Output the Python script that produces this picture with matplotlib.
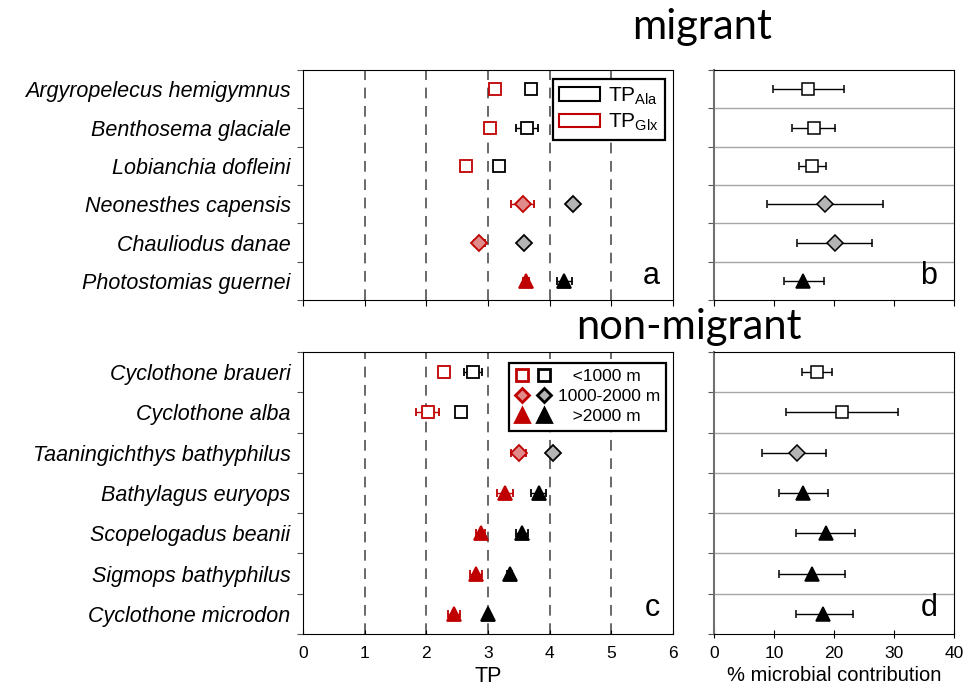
import matplotlib
matplotlib.use('Agg')
import matplotlib.pyplot as plt
from matplotlib.patches import Patch
from matplotlib.lines import Line2D
from matplotlib.legend_handler import HandlerTuple

plt.rcParams['font.family'] = 'Liberation Sans'
plt.rcParams['mathtext.fontset'] = 'custom'
plt.rcParams['mathtext.rm'] = 'Liberation Sans'

# ---- data ----
migrant_species = ['Argyropelecus hemigymnus', 'Benthosema glaciale', 'Lobianchia dofleini',
                   'Neonesthes capensis', 'Chauliodus danae', 'Photostomias guernei']
migrant_depth = ['<1000', '<1000', '<1000', '1000-2000', '1000-2000', '>2000']
migrant_glx = [3.11, 3.03, 2.65, 3.56, 2.86, 3.61]
migrant_glx_err = [0.03, 0.0, 0.0, 0.19, 0.09, 0.05]
migrant_ala = [3.70, 3.63, 3.17, 4.37, 3.59, 4.24]
migrant_ala_err = [0.0, 0.18, 0.0, 0.0, 0.04, 0.12]
migrant_micro = [15.7, 16.6, 16.3, 18.5, 20.1, 14.9]
migrant_micro_lo = [5.8, 3.6, 2.1, 9.7, 6.2, 3.3]
migrant_micro_hi = [6.0, 3.6, 2.4, 9.7, 6.3, 3.4]

resident_species = ['Cyclothone braueri', 'Cyclothone alba', 'Taaningichthys bathyphilus',
                    'Bathylagus euryops', 'Scopelogadus beanii', 'Sigmops bathyphilus',
                    'Cyclothone microdon']
resident_depth = ['<1000', '<1000', '1000-2000', '>2000', '>2000', '>2000', '>2000']
resident_glx = [2.29, 2.02, 3.50, 3.27, 2.88, 2.80, 2.45]
resident_glx_err = [0.0, 0.18, 0.12, 0.13, 0.07, 0.10, 0.10]
resident_ala = [2.76, 2.56, 4.05, 3.82, 3.55, 3.35, 3.00]
resident_ala_err = [0.15, 0.05, 0.0, 0.12, 0.10, 0.04, 0.0]
resident_micro = [17.1, 21.3, 13.9, 14.8, 18.7, 16.3, 18.2]
resident_micro_lo = [2.4, 9.3, 5.9, 3.9, 5.1, 5.5, 4.6]
resident_micro_hi = [2.5, 9.4, 4.7, 4.2, 4.8, 5.5, 4.9]

RED = '#c00000'
# marker, facecolor/edgecolor for Ala (black) and Glx (red)
styles = {
    '<1000': dict(marker='s', ms=8.5, ala_fc='white', ala_ec='black', glx_fc='white', glx_ec=RED),
    '1000-2000': dict(marker='D', ms=8, ala_fc='#b4b4b4', ala_ec='black', glx_fc='#e08a8a', glx_ec=RED),
    '>2000': dict(marker='^', ms=10, ala_fc='black', ala_ec='black', glx_fc=RED, glx_ec=RED),
}

fig = plt.figure(figsize=(9.66, 6.91), dpi=100)
ax_a = fig.add_axes([0.3137, 0.5658, 0.3830, 0.3329])
ax_b = fig.add_axes([0.7391, 0.5658, 0.2485, 0.3329])
ax_c = fig.add_axes([0.3137, 0.0825, 0.3830, 0.4081])
ax_d = fig.add_axes([0.7391, 0.0825, 0.2485, 0.4081])


def setup_rows(ax, n, labels=None):
    ax.set_ylim(0, n)
    ax.set_yticks(range(n + 1))
    ax.set_yticklabels([])
    ax.tick_params(axis='y', which='major', length=4, width=0.8, color='#555555')
    if labels is not None:
        ax.set_yticks([n - i - 0.5 for i in range(n)], labels=labels, minor=True)
        ax.tick_params(axis='y', which='minor', length=0, pad=9, labelsize=15.5)
        for t in ax.get_yticklabels(minor=True):
            t.set_style('italic')


def tp_panel(ax, species, depth, glx, glx_err, ala, ala_err, letter):
    n = len(species)
    setup_rows(ax, n, species)
    ax.set_xlim(0, 6)
    ax.set_xticks(range(7))
    for v in range(1, 6):
        ax.axvline(v, color='#404040', lw=1.1, ls=(0, (7, 5)), zorder=0)
    for i in range(n):
        y = n - i - 0.5
        st = styles[depth[i]]
        ax.errorbar(glx[i], y, xerr=glx_err[i], fmt=st['marker'], ms=st['ms'],
                    mfc=st['glx_fc'], mec=st['glx_ec'], mew=1.3, ecolor=RED,
                    elinewidth=1, capsize=3, zorder=3)
        ax.errorbar(ala[i], y, xerr=ala_err[i], fmt=st['marker'], ms=st['ms'],
                    mfc=st['ala_fc'], mec=st['ala_ec'], mew=1.3, ecolor='black',
                    elinewidth=1, capsize=3, zorder=3)
    ax.text(0.965, 0.04, letter, transform=ax.transAxes, ha='right', va='bottom', fontsize=22)


def micro_panel(ax, depth, micro, lo, hi, letter):
    n = len(micro)
    setup_rows(ax, n)
    ax.set_xlim(0, 40)
    ax.set_xticks([0, 10, 20, 30, 40])
    for v in range(1, n):
        ax.axhline(v, color='#a6a6a6', lw=1, zorder=0)
    for i in range(n):
        y = n - i - 0.5
        st = styles[depth[i]]
        ax.errorbar(micro[i], y, xerr=[[lo[i]], [hi[i]]], fmt=st['marker'], ms=st['ms'],
                    mfc=st['ala_fc'], mec='black', mew=1.1, ecolor='black',
                    elinewidth=1, capsize=3, zorder=3)
    ax.text(0.93, 0.04, letter, transform=ax.transAxes, ha='right', va='bottom', fontsize=22)
    ax.spines['left'].set_color('#707070')
    ax.spines['left'].set_linewidth(1.5)


tp_panel(ax_a, migrant_species, migrant_depth, migrant_glx, migrant_glx_err,
         migrant_ala, migrant_ala_err, 'a')
tp_panel(ax_c, resident_species, resident_depth, resident_glx, resident_glx_err,
         resident_ala, resident_ala_err, 'c')
micro_panel(ax_b, migrant_depth, migrant_micro, migrant_micro_lo, migrant_micro_hi, 'b')
micro_panel(ax_d, resident_depth, resident_micro, resident_micro_lo, resident_micro_hi, 'd')

for ax in (ax_a, ax_b):
    ax.set_xticklabels([])
    ax.tick_params(axis='x', length=4, direction='out')
ax_c.tick_params(axis='x', length=3, direction='in', labelsize=12.5, pad=9)
ax_d.tick_params(axis='x', length=6, direction='inout', labelsize=12.5, pad=6)
ax_c.set_xlabel('TP', fontsize=15.5, labelpad=3)
ax_d.set_xlabel('% microbial contribution', fontsize=14.5, labelpad=3)

# legend a
leg_a = ax_a.legend(handles=[Patch(facecolor='white', edgecolor='black', lw=1.5),
                             Patch(facecolor='white', edgecolor=RED, lw=1.5)],
                    labels=[r'TP$_{\mathrm{Ala}}$', r'TP$_{\mathrm{Glx}}$'],
                    loc='upper right', bbox_to_anchor=(0.99, 0.98), fontsize=15,
                    handlelength=1.95, handleheight=0.65, handletextpad=0.4,
                    labelspacing=0.25, borderpad=0.3, borderaxespad=0.2,
                    fancybox=False, framealpha=1)
leg_a.get_frame().set_edgecolor('black')
leg_a.get_frame().set_linewidth(1.6)

# legend c
handles_c = []
for d in ['<1000', '1000-2000', '>2000']:
    st = styles[d]
    red = Line2D([], [], ls='none', marker=st['marker'], ms=st['ms'] - 0.5, mfc=st['glx_fc'],
                 mec=st['glx_ec'], mew=2)
    blk = Line2D([], [], ls='none', marker=st['marker'], ms=st['ms'] - 0.5, mfc=st['ala_fc'],
                 mec=st['ala_ec'], mew=2)
    handles_c.append((red, blk))
leg_c = ax_c.legend(handles=handles_c, labels=['   <1000 m', '1000-2000 m', '   >2000 m'],
                    handler_map={tuple: HandlerTuple(ndivide=None, pad=0.5)},
                    loc='upper right', bbox_to_anchor=(0.99, 0.975), fontsize=12.5,
                    handlelength=2.1, handletextpad=0.35, labelspacing=0.3,
                    borderpad=0.35, borderaxespad=0.2, fancybox=False, framealpha=1)
leg_c.get_frame().set_edgecolor('black')
leg_c.get_frame().set_linewidth(1.6)

fig.text(0.7267, 0.9436, 'migrant', ha='center', va='baseline', fontsize=30, family='Lato')
fig.text(0.7133, 0.5094, 'non-migrant', ha='center', va='baseline', fontsize=30, family='Lato')

fig.savefig('out.png', dpi=100)
